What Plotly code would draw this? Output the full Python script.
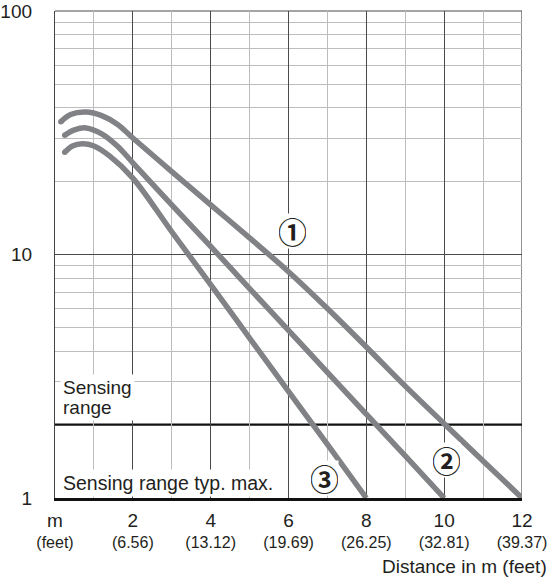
import math
import plotly.graph_objects as go

# ---- data ----
x_curve1 = [0.15, 0.4, 0.8, 1.2, 1.6, 2.0, 3.0, 4.0, 5.0, 6.0, 7.0, 8.0, 9.0, 10.0, 11.0, 12.0]
y_curve1 = [35.1, 37.6, 38.5, 37.2, 34.3, 30.1, 21.9, 16.0, 11.7, 8.5, 6.0, 4.17, 2.88, 2.02, 1.42, 1.0]

x_curve2 = [0.25, 0.5, 0.8, 1.2, 1.6, 2.0, 3.0, 4.0, 5.0, 6.0, 7.0, 8.0, 9.0, 10.0]
y_curve2 = [30.9, 32.5, 33.1, 31.3, 27.9, 23.8, 16.0, 10.8, 7.24, 4.88, 3.28, 2.21, 1.49, 1.0]

x_curve3 = [0.25, 0.45, 0.7, 1.0, 1.4, 2.0, 3.0, 4.0, 5.0, 6.0, 7.0, 8.0]
y_curve3 = [26.3, 27.9, 28.5, 27.9, 25.4, 20.6, 12.4, 7.52, 4.54, 2.74, 1.66, 1.0]

x_major_ticks = [0, 2, 4, 6, 8, 10, 12]
x_tick_m = ["m", "2", "4", "6", "8", "10", "12"]
x_tick_ft = ["(feet)", "(6.56)", "(13.12)", "(19.69)", "(26.25)", "(32.81)", "(39.37)"]
x_minor_ticks = [1, 3, 5, 7, 9, 11]

y_major_ticks = [1, 10, 100]
y_tick_labels = ["1", "10", "100"]
y_minor_ticks = [3, 4, 5, 6, 7, 8, 9, 20, 30, 40, 50, 60, 70, 80, 90]

sensing_range_level = 2
curve_labels = ["①", "②", "③"]
curve_label_x = [6.09, 10.05, 6.92]
curve_label_y = [12.5, 1.43, 1.21]

# ---- styles ----
CURVE_COLOR = "#808285"
TEXT_COLOR = "#231f20"
FONT = "Liberation Sans, Arial, sans-serif"
MAJOR_GRID = "#4a4a4a"
MINOR_GRID = "#bdbdbd"

fig = go.Figure()

for xs, ys in [(x_curve1, y_curve1), (x_curve2, y_curve2), (x_curve3, y_curve3)]:
    fig.add_trace(go.Scatter(
        x=xs, y=ys, mode="lines",
        line=dict(color=CURVE_COLOR, width=5.5, shape="spline", smoothing=1.0),
        hoverinfo="skip", showlegend=False, cliponaxis=True,
    ))
    # rounded start cap
    fig.add_trace(go.Scatter(
        x=[xs[0]], y=[ys[0]], mode="markers",
        marker=dict(color=CURVE_COLOR, size=5.5, line=dict(width=0)),
        hoverinfo="skip", showlegend=False,
    ))

ticktext = [f"<span style='font-size:19px'>{a}</span><br>{b}" for a, b in zip(x_tick_m, x_tick_ft)]

fig.update_xaxes(
    range=[0, 12], automargin=False,
    tickmode="array", tickvals=x_major_ticks, ticktext=ticktext,
    showgrid=True, gridcolor=MAJOR_GRID, gridwidth=1,
    minor=dict(tickmode="array", tickvals=x_minor_ticks, showgrid=True,
               gridcolor=MINOR_GRID, gridwidth=1.3, ticks=""),
    showline=True, linecolor="#111111", linewidth=2.5,
    zeroline=False, ticks="", ticklabelstandoff=7, ticklabeloverflow="allow",
    tickfont=dict(family=FONT, size=16, color=TEXT_COLOR),
    fixedrange=True,
)
fig.update_yaxes(
    type="log", range=[0, 2], automargin=False,
    tickmode="array", tickvals=y_major_ticks, ticktext=y_tick_labels,
    showgrid=True, gridcolor=MAJOR_GRID, gridwidth=1,
    minor=dict(tickmode="array", tickvals=y_minor_ticks, showgrid=True,
               gridcolor=MINOR_GRID, gridwidth=1.3, ticks=""),
    showline=True, linecolor="#444444", linewidth=1.3,
    zeroline=False, ticks="", ticklabelstandoff=18, ticklabeloverflow="allow",
    tickfont=dict(family=FONT, size=19, color=TEXT_COLOR),
    fixedrange=True,
)

# frame edges (top and right) and sensing-range line
fig.add_shape(type="line", xref="x", yref="paper", x0=12, x1=12, y0=0, y1=1,
              line=dict(color=MAJOR_GRID, width=1.2), layer="below")
fig.add_shape(type="line", xref="paper", yref="paper", x0=0, x1=1, y0=1, y1=1,
              line=dict(color=MAJOR_GRID, width=1.2), layer="below")
fig.add_hline(y=sensing_range_level, line=dict(color="#111111", width=2.2), layer="below")

# text annotations (annotation positions on a log axis are given in log10 units)
fig.add_annotation(x=0.13, y=math.log10(2.59), xref="x", yref="y",
                   text="<span style='font-size:19px'>Sensing</span><br><span style='font-size:19px'>range</span>",
                   showarrow=False, xanchor="left", yanchor="middle", align="left",
                   bgcolor="white", borderpad=2,
                   font=dict(family=FONT, size=15, color=TEXT_COLOR))
fig.add_annotation(x=0.13, y=math.log10(1.156), xref="x", yref="y", text="Sensing range typ. max.",
                   showarrow=False, xanchor="left", yanchor="middle", align="left",
                   bgcolor="white", borderpad=2,
                   font=dict(family=FONT, size=19.5, color=TEXT_COLOR))
for lbl, lx, ly in zip(curve_labels, curve_label_x, curve_label_y):
    fig.add_annotation(x=lx, y=math.log10(ly), xref="x", yref="y", text=f"<b>{lbl}</b>",
                       showarrow=False, xanchor="center", yanchor="middle",
                       bgcolor="white", borderpad=0, width=27, height=34,
                       font=dict(family="Noto Sans CJK JP, DejaVu Sans", size=29, color=TEXT_COLOR))

fig.add_annotation(x=1.0, y=0, xref="paper", yref="paper", text="Distance in m (feet)",
                   showarrow=False, xanchor="right", yanchor="middle", yshift=-68, xshift=27,
                   font=dict(family=FONT, size=19, color=TEXT_COLOR))

fig.update_layout(
    width=550, height=580, autosize=False,
    margin=dict(l=55, r=28, t=11, b=82),
    paper_bgcolor="white", plot_bgcolor="white",
    showlegend=False,
)

# remove the page's default body margin so the figure sits at the window's corner
fig.write_html("out.html", config={"displayModeBar": False},
               post_script="document.body.style.margin='0px';")
